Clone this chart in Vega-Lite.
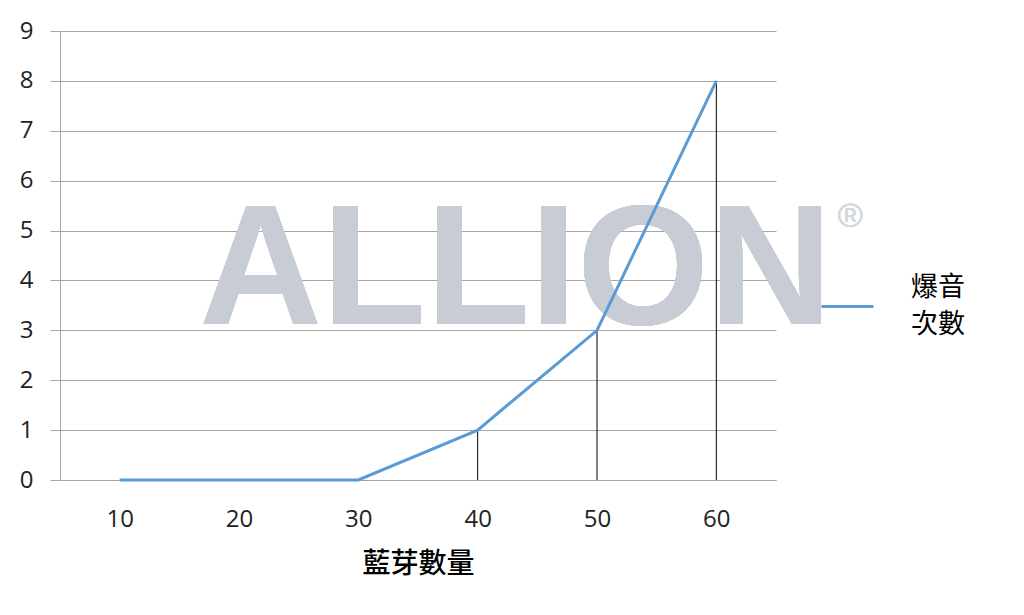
{
  "$schema": "https://vega.github.io/schema/vega-lite/v6.json",
  "width": 716,
  "height": 449,
  "autosize": {"type": "none"},
  "padding": {"left": 60, "top": 31, "right": 248, "bottom": 135},
  "background": "white",
  "data": {
    "values": [
      {"n": "10", "v": 0, "s": "爆音次數"},
      {"n": "20", "v": 0, "s": "爆音次數"},
      {"n": "30", "v": 0, "s": "爆音次數"},
      {"n": "40", "v": 1, "s": "爆音次數"},
      {"n": "50", "v": 3, "s": "爆音次數"},
      {"n": "60", "v": 8, "s": "爆音次數"}
    ]
  },
  "config": {
    "view": {"stroke": null},
    "font": "Open Sans",
    "style": {"guide-label": {"lineHeight": 37}}
  },
  "layer": [
    {
      "mark": {"type": "text", "text": "ALLION", "font": "Liberation Sans", "fontWeight": "bold", "fontSize": 170, "fill": "#c8ccd4", "opacity": 0.75, "align": "center", "baseline": "middle", "dx": 38},
      "encoding": {
        "x": {"datum": "40", "type": "ordinal", "scale": {"type": "point", "padding": 0.5}},
        "y": {"datum": 4.15, "type": "quantitative"}
      }
    },
    {
      "mark": {"type": "text", "text": "®", "font": "Liberation Sans", "fontSize": 34, "fill": "#d5d8de", "align": "center", "baseline": "middle", "dx": 134},
      "encoding": {
        "x": {"datum": "60", "type": "ordinal", "scale": {"type": "point", "padding": 0.5}},
        "y": {"datum": 5.28, "type": "quantitative"}
      }
    },
    {
      "mark": {"type": "rule", "color": "black", "strokeWidth": 1},
      "encoding": {
        "x": {"field": "n", "type": "ordinal", "scale": {"type": "point", "padding": 0.5}},
        "y": {"field": "v", "type": "quantitative"},
        "y2": {"datum": 0}
      }
    },
    {
      "mark": {"type": "line", "strokeWidth": 3},
      "encoding": {
        "x": {
          "field": "n", "type": "ordinal",
          "scale": {"type": "point", "padding": 0.5},
          "axis": {
            "title": "藍芽數量", "titleFont": "Noto Sans CJK TC", "titleFontSize": 28, "titleFontWeight": 500, "titleColor": "black", "titlePadding": 19,
            "labelAngle": 0, "labelAlign": "center", "labelFontSize": 24, "labelColor": "#222", "labelPadding": 39,
            "ticks": false, "domainColor": "#a6a6a6", "grid": false
          }
        },
        "y": {
          "field": "v", "type": "quantitative",
          "scale": {"domain": [0, 9], "nice": false},
          "axis": {
            "title": null, "values": [0,1,2,3,4,5,6,7,8,9], "format": "d",
            "grid": true, "gridColor": "#a6a6a6", "domainColor": "#a6a6a6", "tickColor": "#a6a6a6",
            "tickSize": 10, "labelFontSize": 24, "labelColor": "#222", "labelPadding": 17
          }
        },
        "color": {
          "field": "s", "type": "nominal",
          "scale": {"range": ["#5b9bd5"]},
          "legend": {
            "title": null, "orient": "none", "legendX": 760, "legendY": 248,
            "symbolType": "stroke", "symbolSize": 2704, "symbolStrokeWidth": 3,
            "labelFont": "Noto Sans CJK TC", "labelFontSize": 27, "labelColor": "black", "labelOffset": 36,
            "labelBaseline": "line-bottom",
            "labelExpr": "[substring(datum.label, 0, 2), substring(datum.label, 2)]"
          }
        }
      }
    }
  ]
}
